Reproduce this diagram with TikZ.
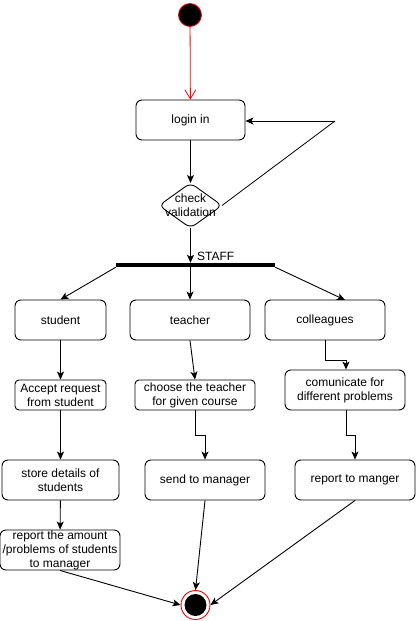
\documentclass[tikz,border=0pt]{standalone}
\usepackage{fontspec}
\setmainfont{Liberation Sans}
\usetikzlibrary{arrows.meta,shapes.geometric}
\begin{document}
\begin{tikzpicture}[x=1pt,y=-1pt,
  every node/.style={font=\fontsize{12}{14}\selectfont},
  act/.style={draw,rounded corners=6pt,line width=0.9pt,align=center,inner sep=0pt},
  arr/.style={line width=0.9pt,-{Stealth[length=8pt,width=7pt,inset=2pt]}},
  thin/.style={line width=0.8pt}]
\useasboundingbox (0,0) rectangle (416,621);
% start
\node[circle,fill=black,draw=red,line width=0.8pt,minimum size=23pt,inner sep=0pt] (start) at (190,15) {};
% boxes
\node[act,minimum width=109pt,minimum height=40pt] (login) at (190.5,120) {login in};
\coordinate (ct) at (190.5,183);
\coordinate (cb) at (190.5,228);
\coordinate (cl) at (159,205.5);
\coordinate (cr) at (222,205.5);
\draw[line width=0.9pt,rounded corners=6pt] (ct) -- (cr) -- (cb) -- (cl) -- cycle;
\node[align=center,inner sep=0pt] (check) at (190.5,205.5) {check\\validation};
\node[fill=black,minimum width=159pt,minimum height=4pt,inner sep=0pt] (bar) at (195.5,265) {};
\node[anchor=south west,inner sep=1pt] (staff) at (196,262) {STAFF};
\node[act,minimum width=91pt,minimum height=40pt] (student) at (60.5,320) {student};
\node[act,minimum width=120pt,minimum height=40pt] (teacher) at (190,320) {teacher};
\node[act,minimum width=120pt,minimum height=40pt] (coll) at (325,320) {colleagues};
\node[act,rounded corners=4pt,minimum width=91pt,minimum height=30pt] (accept) at (60.5,395) {Accept request\\from student};
\node[act,rounded corners=4pt,minimum width=120pt,minimum height=30pt] (choose) at (195,395) {choose the teacher\\for given course};
\node[act,minimum width=120pt,minimum height=40pt] (comm) at (345,390) {comunicate for\\different problems};
\node[act,minimum width=117pt,minimum height=40pt] (store) at (60.5,480) {store details of\\students};
\node[act,minimum width=120pt,minimum height=40pt] (send) at (205,480) {send to manager};
\node[act,minimum width=120pt,minimum height=40pt] (rep) at (355,480) {report to manger};
\node[act,minimum width=120pt,minimum height=40pt] (amount) at (60,550) {\\[-4pt]};
\node[align=center,inner sep=0pt] at (60,550) {report the amount\\/problems of students\\to manager};
% end
\node[circle,draw=red,line width=0.9pt,minimum size=29pt,inner sep=0pt] (end) at (195.5,605) {};
\node[circle,fill=black,minimum size=22pt,inner sep=0pt] (endin) at (195.5,605) {};
\coordinate (loopc) at (335,121);
\coordinate (colltop) at (345,300);
% connectors
\draw[red,line width=0.8pt,-{Straight Barb[length=9pt,width=11pt]}] (start) -- (login);
\draw[arr] (login) -- (ct);
\draw[thin] (cr) -- (loopc);
\draw[arr] (loopc) -- (login.east |- loopc);
\draw[arr] (cb) -- (bar.north -| cb);
\draw[arr] (bar.south west) -- (student.north);
\draw[arr] (bar.south -| teacher) -- (teacher.north);
\draw[arr] (bar.south east) -- (colltop);
\draw[arr] (student) -- (accept);
\draw[arr] (teacher.south) -- (choose.north);
\draw[arr] (325,340) -- (325,360) -- (346,360) -- (comm.north -| 346,0);
\draw[arr] (accept) -- (store);
\draw[arr] (195,410) -- (195,435) -- (205,435) -- (send.north);
\draw[arr] (346,410) -- (346,435) -- (355,435) -- (rep.north);
\draw[arr] (store) -- (amount);
\draw[arr] (amount.south) -- (end.west);
\draw[arr] (send.south) -- (end.north);
\draw[arr] (rep.south) -- (end.east);
\end{tikzpicture}
\end{document}
